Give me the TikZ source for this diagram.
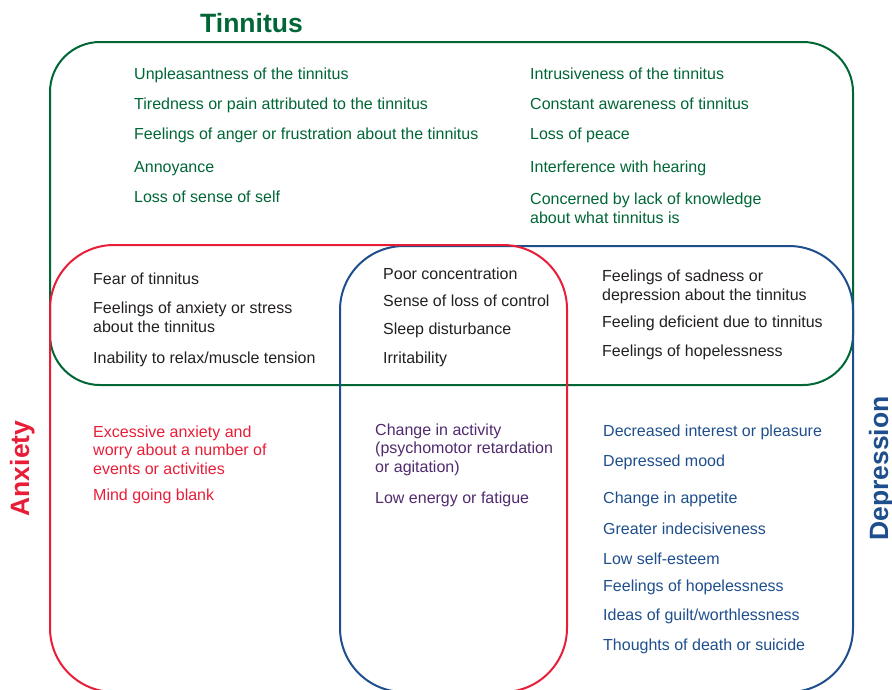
\documentclass[tikz,border=0pt]{standalone}
\usepackage{fontspec}
\setmainfont{Liberation Sans}
\definecolor{tingreen}{RGB}{0,102,54}
\definecolor{anxred}{RGB}{232,30,56}
\definecolor{depblue}{RGB}{30,78,140}
\definecolor{mixpurple}{RGB}{80,42,110}
\definecolor{textgrey}{RGB}{35,31,32}
\begin{document}
\begin{tikzpicture}[x=1pt, y=-1pt,
  item/.style={anchor=base west, inner sep=0pt, align=left,
    font=\fontsize{16}{18.5}\selectfont},
  title/.style={anchor=base, inner sep=0pt,
    font=\fontsize{26.5}{30}\selectfont\bfseries}]
\clip (0,0) rectangle (892,689);

% the three sets
\draw [tingreen, line width=2pt, rounded corners=50pt] (50,42) rectangle (853,385);
\draw [depblue, line width=2pt, rounded corners=64pt] (340,246) rectangle (853,692);
\draw [anxred, line width=2pt, rounded corners=64pt] (50,245) rectangle (567,692);

% set names
\node [title, tingreen] (tin) at (251.5,32.7) {Tinnitus};
\node [title, anxred, rotate=90] (anx) at (29,468.5) {Anxiety};
\node [title, depblue, rotate=90] (dep) at (888,468.5) {Depression};

% tinnitus only (base of a multi-line node is its last line)
\node [item, tingreen] (t1) at (134,79.3) {Unpleasantness of the tinnitus};
\node [item, tingreen] (t2) at (134,109.3) {Tiredness or pain attributed to the tinnitus};
\node [item, tingreen] (t3) at (134,139.3) {Feelings of anger or frustration about the tinnitus};
\node [item, tingreen] (t4) at (134,172.3) {Annoyance};
\node [item, tingreen] (t5) at (134,202.3) {Loss of sense of self};
\node [item, tingreen] (t6) at (530,79.3) {Intrusiveness of the tinnitus};
\node [item, tingreen] (t7) at (530,109.3) {Constant awareness of tinnitus};
\node [item, tingreen] (t8) at (530,139.3) {Loss of peace};
\node [item, tingreen] (t9) at (530,172.3) {Interference with hearing};
\node [item, tingreen] (t10) at (530,223.3) {Concerned by lack of knowledge\\about what tinnitus is};

% tinnitus and anxiety
\node [item, textgrey] (ta1) at (93,284) {Fear of tinnitus};
\node [item, textgrey] (ta2) at (93,332.3) {Feelings of anxiety or stress\\about the tinnitus};
\node [item, textgrey] (ta3) at (93,363.3) {Inability to relax/muscle tension};

% all three
\node [item, textgrey] (tad1) at (383,279.3) {Poor concentration};
\node [item, textgrey] (tad2) at (383,306) {Sense of loss of control};
\node [item, textgrey] (tad3) at (383,334.3) {Sleep disturbance};
\node [item, textgrey] (tad4) at (383,363.3) {Irritability};

% tinnitus and depression
\node [item, textgrey] (td1) at (602,300) {Feelings of sadness or\\depression about the tinnitus};
\node [item, textgrey] (td2) at (602,327.3) {Feeling deficient due to tinnitus};
\node [item, textgrey] (td3) at (602,356.7) {Feelings of hopelessness};

% anxiety only
\node [item, anxred] (a1) at (93,474) {Excessive anxiety and\\worry about a number of\\events or activities};
\node [item, anxred] (a2) at (93,500) {Mind going blank};

% anxiety and depression
\node [item, mixpurple] (ad1) at (375,472.3) {Change in activity\\(psychomotor retardation\\or agitation)};
\node [item, mixpurple] (ad2) at (375,503.3) {Low energy or fatigue};

% depression only
\node [item, depblue] (d1) at (603,436) {Decreased interest or pleasure};
\node [item, depblue] (d2) at (603,466) {Depressed mood};
\node [item, depblue] (d3) at (603,503.3) {Change in appetite};
\node [item, depblue] (d4) at (603,534) {Greater indecisiveness};
\node [item, depblue] (d5) at (603,564) {Low self-esteem};
\node [item, depblue] (d6) at (603,591.7) {Feelings of hopelessness};
\node [item, depblue] (d7) at (603,620) {Ideas of guilt/worthlessness};
\node [item, depblue] (d8) at (603,650) {Thoughts of death or suicide};
\end{tikzpicture}
\end{document}
